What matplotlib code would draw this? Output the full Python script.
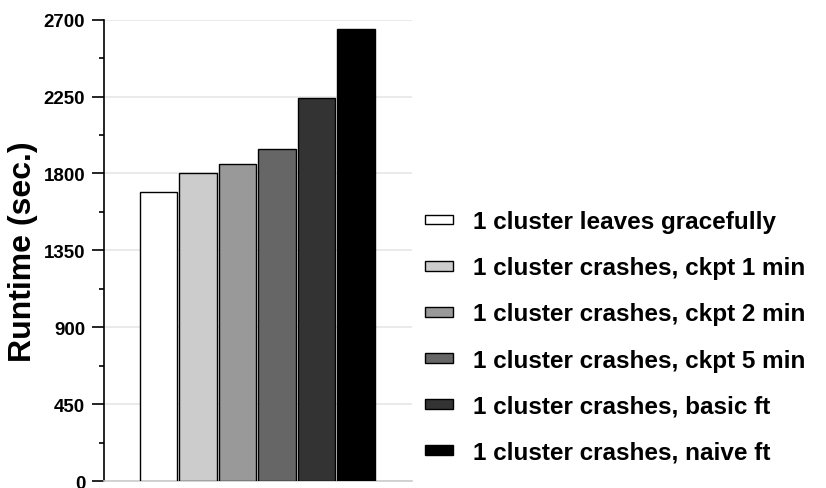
import matplotlib.pyplot as plt
from matplotlib.ticker import MultipleLocator

plt.rcParams["font.family"] = ["Liberation Sans", "DejaVu Sans"]
plt.rcParams["font.weight"] = "bold"

scenarios = [
    "1 cluster leaves gracefully",
    "1 cluster crashes, ckpt 1 min",
    "1 cluster crashes, ckpt 2 min",
    "1 cluster crashes, ckpt 5 min",
    "1 cluster crashes, basic ft",
    "1 cluster crashes, naive ft",
]
runtimes = [1690, 1800, 1855, 1945, 2240, 2645]
shades = ["#ffffff", "#cccccc", "#999999", "#666666", "#333333", "#000000"]
yticks = [0, 450, 900, 1350, 1800, 2250, 2700]

fig = plt.figure(figsize=(8.26, 4.89), dpi=100)
ax = fig.add_axes([0.126, 0.0143, 0.373, 0.9434])

bars = []
for i, (name, value, shade) in enumerate(zip(scenarios, runtimes, shades)):
    b = ax.bar(i, value, width=0.94, color=shade, edgecolor="black",
               linewidth=1.0, label=name, zorder=3)
    bars.append(b)

ax.set_xlim(-1.375, 6.42)
ax.set_ylim(0, 2700)
ax.set_yticks(yticks)
ax.set_yticklabels([str(t) for t in yticks], fontsize=13.5, fontweight="bold")
ax.yaxis.set_minor_locator(MultipleLocator(225))
ax.tick_params(axis="y", which="major", length=8.5, width=1.2, pad=5,
               direction="out")
ax.tick_params(axis="y", which="minor", length=3.6, width=1.2,
               direction="out")
ax.set_xticks([])
ax.grid(axis="y", color="#e6e6e6", linewidth=1.2, zorder=0)

for side in ("top", "right"):
    ax.spines[side].set_visible(False)
ax.spines["left"].set_linewidth(1.2)
ax.spines["bottom"].set_color("#cccccc")
ax.spines["bottom"].set_linewidth(1.2)

ax.set_ylabel("Runtime (sec.)", fontsize=23, fontweight="bold", labelpad=4)

fig.legend(handles=bars, labels=scenarios, loc="upper left",
           bbox_to_anchor=(0.5145, 0.568), frameon=False,
           prop={"size": 17.5, "weight": "bold"},
           handlelength=1.15, handleheight=0.25, handletextpad=0.82,
           labelspacing=0.95, borderpad=0, borderaxespad=0)

fig.savefig("out.png", dpi=100)
